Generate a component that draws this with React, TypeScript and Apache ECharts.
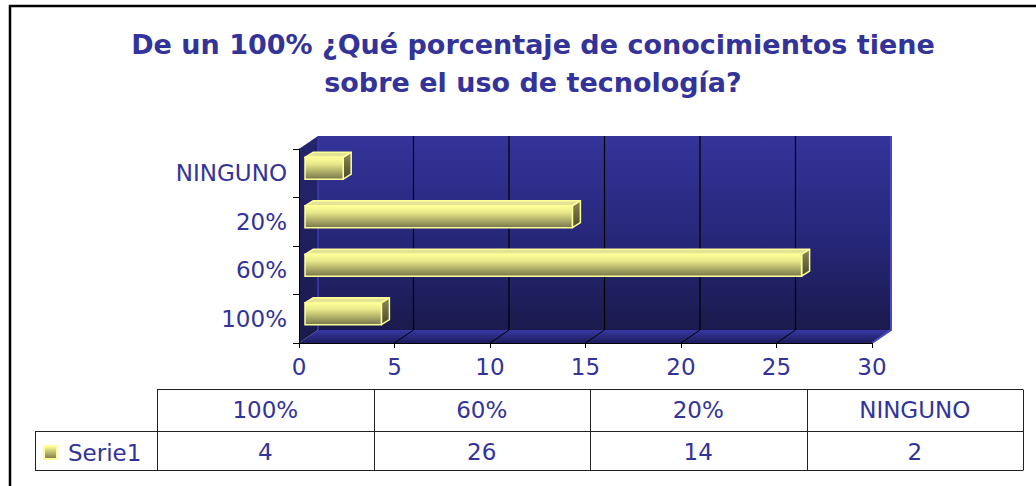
import React, { useEffect, useRef } from "react";
import * as echarts from "echarts";

const titleLines = ["De un 100% ¿Qué porcentaje de conocimientos tiene", "sobre el uso de tecnología?"];
const categories = ["100%", "60%", "20%", "NINGUNO"];
const serie1 = [4, 26, 14, 2];
const seriesName = "Serie1";
const xMin = 0;
const xMax = 30;
const xStep = 5;

const TEXT = "#333399";
const FONT = "'DejaVu Sans', sans-serif";

export default function App() {
  const ref = useRef<HTMLDivElement>(null);

  useEffect(() => {
    const chart = echarts.init(ref.current!, null, { renderer: "svg" });
    const G = echarts.graphic;
    const DX = 19, DY = -13; // wall depth
    const BX = 6, BY = -5; // bar front offset inside the depth
    const BDX = 8, BDY = -5; // bar depth
    const ticks: number[] = [];
    for (let v = xMin; v <= xMax; v += xStep) ticks.push(v);

    const barFront = new G.LinearGradient(0, 0, 0, 1, [
      { offset: 0, color: "#ffff99" },
      { offset: 0.3, color: "#e8e88a" },
      { offset: 1, color: "#77774a" },
    ]);

    const renderWalls = (params: any, api: any) => {
      if (params.dataIndex !== 0) return null;
      const n = categories.length;
      const band = api.size([0, 1])[1];
      const x0 = api.coord([xMin, 0])[0];
      const x1 = api.coord([xMax, 0])[0];
      const yb = api.coord([xMin, 0])[1] + band / 2;
      const yt = api.coord([xMin, n - 1])[1] - band / 2;
      const children: any[] = [];
      children.push({
        type: "polygon",
        shape: { points: [[x0 + DX, yt + DY], [x1 + DX, yt + DY], [x1 + DX, yb + DY], [x0 + DX, yb + DY]] },
        style: {
          fill: new G.LinearGradient(0, 0, 0, 1, [
            { offset: 0, color: "#34349a" },
            { offset: 0.55, color: "#262678" },
            { offset: 1, color: "#1a1a4c" },
          ]),
        },
      });
      children.push({
        type: "polygon",
        shape: { points: [[x0, yt], [x0 + DX, yt + DY], [x0 + DX, yb + DY], [x0, yb]] },
        style: {
          fill: new G.LinearGradient(0, 0, 0, 1, [
            { offset: 0, color: "#252570" },
            { offset: 1, color: "#1a1a4c" },
          ]),
        },
      });
      children.push({
        type: "polygon",
        shape: { points: [[x0, yb], [x1, yb], [x1 + DX, yb + DY], [x0 + DX, yb + DY]] },
        style: {
          fill: new G.LinearGradient(0, 0, 0, 1, [
            { offset: 0, color: "#3838a6" },
            { offset: 1, color: "#1c1c5a" },
          ]),
        },
      });
      ticks.forEach((v) => {
        if (v === xMin || v === xMax) return;
        const x = api.coord([v, 0])[0];
        children.push({
          type: "line",
          shape: { x1: x + DX, y1: yt + DY, x2: x + DX, y2: yb + DY },
          style: { stroke: "#000", lineWidth: 1.2 },
        });
        children.push({
          type: "line",
          shape: { x1: x, y1: yb, x2: x + DX, y2: yb + DY },
          style: { stroke: "#000", lineWidth: 1 },
        });
      });
      children.push({
        type: "line",
        shape: { x1: x0 + DX, y1: yt + DY + 2, x2: x0 + DX, y2: yb + DY },
        style: { stroke: "#3c3cb0", lineWidth: 1.5 },
      });
      children.push({
        type: "polyline",
        shape: { points: [[x1 + DX, yt + DY], [x1 + DX, yb + DY], [x1, yb]] },
        style: { stroke: "#4848c4", lineWidth: 2, fill: "none" },
      });
      return { type: "group", children };
    };

    const renderBars = (params: any, api: any) => {
      const v = api.value(0);
      const idx = api.value(1);
      const p0 = api.coord([xMin, idx]);
      const p1 = api.coord([v, idx]);
      const band = api.size([0, 1])[1];
      const h = band * 0.45;
      const xl = p0[0] + BX;
      const xr = p1[0] + BX;
      const yc = p0[1] + BY;
      const yt = yc - h / 2;
      const yb = yc + h / 2;
      const stroke = "#ffff99";
      return {
        type: "group",
        children: [
          {
            type: "polygon",
            shape: { points: [[xl, yt], [xr, yt], [xr + BDX, yt + BDY], [xl + BDX, yt + BDY]] },
            style: { fill: "#e4e496", stroke, lineWidth: 1.5, lineJoin: "round" },
          },
          {
            type: "polygon",
            shape: { points: [[xr, yt], [xr + BDX, yt + BDY], [xr + BDX, yb + BDY], [xr, yb]] },
            style: {
              fill: new G.LinearGradient(0, 0, 0, 1, [
                { offset: 0, color: "#8a8a55" },
                { offset: 1, color: "#4a4a2a" },
              ]),
              stroke,
              lineWidth: 1.5,
              lineJoin: "round",
            },
          },
          {
            type: "rect",
            shape: { x: xl, y: yt, width: xr - xl, height: h },
            style: { fill: barFront, stroke, lineWidth: 1.5 },
          },
        ],
      };
    };

    // data table
    const tLeft = 35, tKeyRight = 157, tRight = 1023;
    const tTop = 389.5, tMid = 431.5, tBot = 470.5;
    const colW = (tRight - tKeyRight) / categories.length;
    const tableEls: any[] = [];
    const lineStyle = { stroke: "#222", lineWidth: 1 };
    tableEls.push({ type: "line", shape: { x1: tKeyRight, y1: tTop, x2: tRight, y2: tTop }, style: lineStyle });
    tableEls.push({ type: "line", shape: { x1: tLeft, y1: tMid, x2: tRight, y2: tMid }, style: lineStyle });
    tableEls.push({ type: "line", shape: { x1: tLeft, y1: tBot, x2: tRight, y2: tBot }, style: lineStyle });
    tableEls.push({ type: "line", shape: { x1: tLeft + 0.5, y1: tMid, x2: tLeft + 0.5, y2: tBot }, style: lineStyle });
    for (let i = 0; i <= categories.length; i++) {
      const x = Math.round(tKeyRight + i * colW) + 0.5;
      tableEls.push({ type: "line", shape: { x1: x, y1: tTop, x2: x, y2: tBot }, style: lineStyle });
    }
    categories.forEach((c, i) => {
      const cx = tKeyRight + (i + 0.5) * colW;
      tableEls.push({
        type: "text",
        x: cx,
        y: (tTop + tMid) / 2 - 1,
        style: { text: c, fill: TEXT, font: `23px ${FONT}`, textAlign: "center", textVerticalAlign: "middle" },
      });
      tableEls.push({
        type: "text",
        x: cx,
        y: (tMid + tBot) / 2 + 1,
        style: { text: String(serie1[i]), fill: TEXT, font: `23px ${FONT}`, textAlign: "center", textVerticalAlign: "middle" },
      });
    });

    const option: any = {
      animation: false,
      backgroundColor: "#ffffff",
      title: {
        text: titleLines.join("\n"),
        left: 528,
        top: 20,
        textAlign: "center",
        textStyle: { fontFamily: FONT, fontSize: 27, fontWeight: "bold", color: TEXT, lineHeight: 38 },
      },
      legend: {
        data: [seriesName],
        left: 43,
        top: 441,
        padding: 0,
        icon: "rect",
        itemWidth: 13,
        itemHeight: 13,
        selectedMode: false,
        textStyle: { fontFamily: FONT, fontSize: 23, color: TEXT, lineHeight: 23, padding: [0, 0, 0, 6] },
      },
      grid: { left: 299, right: 164, top: 149, bottom: 143, containLabel: false },
      xAxis: {
        type: "value",
        min: xMin,
        max: xMax,
        interval: xStep,
        z: 10,
        axisLine: { show: true, lineStyle: { color: "#000", width: 1 } },
        axisTick: { show: true, length: 5, lineStyle: { color: "#000" } },
        axisLabel: { fontFamily: FONT, fontSize: 23, color: TEXT, margin: 12 },
        splitLine: { show: false },
      },
      yAxis: {
        type: "category",
        data: categories,
        z: 10,
        axisLine: { show: true, lineStyle: { color: "#000", width: 1 } },
        axisTick: { show: true, length: 6, lineStyle: { color: "#000" } },
        axisLabel: { fontFamily: FONT, fontSize: 23, color: TEXT, margin: 12 },
        splitLine: { show: false },
      },
      series: [
        {
          type: "custom",
          name: "walls",
          renderItem: renderWalls,
          data: [[xMin, 0]],
          clip: false,
          silent: true,
          z: 1,
        },
        {
          type: "custom",
          name: seriesName,
          renderItem: renderBars,
          data: serie1.map((v, i) => [v, i]),
          clip: false,
          z: 3,
          itemStyle: {
            color: new G.LinearGradient(0, 0, 0, 1, [
              { offset: 0, color: "#ffff99" },
              { offset: 1, color: "#77774a" },
            ]),
            borderColor: "#ffff99",
            borderWidth: 1,
          },
        },
      ],
      graphic: [
        {
          type: "group",
          children: [
            { type: "line", shape: { x1: 10, y1: 5, x2: 10, y2: 486 }, style: { stroke: "#000", lineWidth: 2.5 } },
            { type: "line", shape: { x1: 9, y1: 6, x2: 1036, y2: 6 }, style: { stroke: "#000", lineWidth: 2.5 } },
            ...tableEls,
          ],
        },
      ],
    };
    chart.setOption(option);
    return () => chart.dispose();
  }, []);

  return <div ref={ref} style={{ position: "absolute", left: 0, top: 0, width: 1036, height: 486 }} />;
}
